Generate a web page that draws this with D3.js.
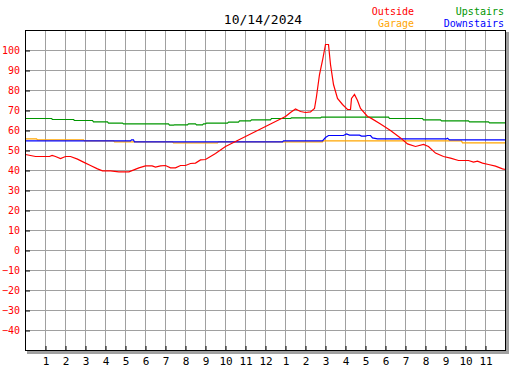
<!DOCTYPE html>
<html>
<head>
<meta charset="utf-8">
<script src="https://cdn.jsdelivr.net/npm/d3@7"></script>
<style>
  body { margin: 0; background: #fff; }
  text { font-family: "DejaVu Sans Mono", monospace; }
</style>
</head>
<body>
<div id="chart"></div>
<script>
// temps for the day, hour of day (0-24) and degrees
var title = "10/14/2024";

var outsideHours = [0, 0.25, 0.5, 1.2, 1.33, 1.5, 1.75, 2, 2.25, 2.6, 2.9, 3.25, 3.6, 3.85, 4.25, 4.67, 5.17, 5.42, 5.67, 6, 6.33, 6.5, 6.75, 7, 7.25, 7.5, 7.75, 8, 8.25, 8.5, 8.75, 9, 9.5, 10, 10.5, 11, 11.5, 12, 12.5, 13, 13.25, 13.5, 13.75, 14, 14.25, 14.45, 14.55, 14.7, 14.85, 15, 15.15, 15.25, 15.4, 15.6, 15.85, 16.1, 16.25, 16.3, 16.45, 16.6, 16.75, 17.1, 17.25, 17.75, 18.25, 18.75, 19.1, 19.5, 19.9, 20.15, 20.5, 20.9, 21.25, 21.65, 22.15, 22.4, 22.6, 22.85, 23.15, 23.5, 23.85, 24];
var outsideTemps = [48, 47.5, 47, 47, 47.5, 47, 46, 47, 47, 45.7, 44.2, 42.5, 40.8, 39.8, 39.8, 39.3, 39.3, 40.3, 41.3, 42.3, 42.3, 41.7, 42.3, 42.5, 41.3, 41.3, 42.5, 42.5, 43.5, 43.7, 45.3, 45.5, 48.5, 52, 54.5, 57, 59.5, 62, 64.5, 67, 69, 70.8, 69.5, 69, 69.3, 71, 77, 88, 95, 103, 103, 93, 83, 76, 73, 70.5, 70.5, 76, 78, 75, 71, 67, 66.3, 63.3, 60, 56.3, 53.3, 52, 53, 52, 48.7, 47, 46.2, 45, 45, 44.2, 44.7, 43.7, 43, 42.2, 40.8, 40.5];

var garageHours = [0, 0.55, 0.6, 2.9, 2.95, 4.4, 4.45, 7.35, 7.4, 9.6, 9.65, 14.85, 14.9, 21.8, 21.85, 24];
var garageTemps = [55.8, 55.8, 55.3, 55.3, 54.8, 54.8, 54.3, 54.3, 53.8, 53.8, 54.3, 54.3, 54.8, 54.8, 53.8, 53.8];

var upstairsHours = [0, 1.3, 1.35, 2.4, 2.45, 3.35, 3.4, 4.1, 4.15, 4.85, 4.9, 7.15, 7.2, 7.4, 7.45, 8.1, 8.15, 8.5, 8.55, 8.85, 8.9, 9.0, 9.05, 10.1, 10.15, 10.65, 10.7, 11.25, 11.3, 12.25, 12.3, 13.25, 13.3, 14.75, 14.8, 18.15, 18.2, 19.85, 19.9, 20.75, 20.8, 22.15, 22.2, 23.15, 23.2, 24];
var upstairsTemps = [66, 66, 65.5, 65.5, 65, 65, 64.3, 64.3, 63.7, 63.7, 63.3, 63.3, 62.7, 62.7, 62.8, 62.8, 63.3, 63.3, 62.8, 62.8, 63.3, 63.3, 63.7, 63.7, 64.2, 64.2, 64.8, 64.8, 65.3, 65.3, 66, 66, 66.3, 66.3, 66.7, 66.7, 66, 66, 65.3, 65.3, 64.8, 64.8, 64.3, 64.3, 63.8, 63.8];

var downstairsHours = [0, 5.25, 5.3, 5.4, 5.45, 12.85, 12.9, 14.85, 15.0, 15.15, 15.9, 16.05, 16.2, 16.7, 16.8, 17.0, 17.1, 17.25, 17.35, 17.6, 21.05, 21.1, 21.2, 24];
var downstairsTemps = [54.8, 54.8, 55.3, 55.3, 54.3, 54.3, 54.8, 54.8, 56.5, 57.5, 57.5, 58.3, 57.7, 57.7, 57.2, 57.2, 57.5, 57.5, 56.3, 55.8, 55.8, 56.1, 55.3, 55.3];

var hourTicks = d3.range(1, 24);
var tempTicks = d3.range(-40, 101, 10);

var svgWidth = 527;
var svgHeight = 370;
var margin = { top: 30, right: 22, bottom: 20, left: 25 };
var chartWidth = svgWidth - margin.left - margin.right;   // 480
var chartHeight = svgHeight - margin.top - margin.bottom; // 320

var svg = d3.select("#chart")
  .append("svg")
  .attr("width", svgWidth)
  .attr("height", svgHeight);

var x = d3.scaleLinear().domain([0, 24]).range([0, chartWidth]);
var y = d3.scaleLinear().domain([-50, 110]).range([chartHeight, 0]);

// shadow + plot background
svg.append("rect")
  .attr("x", margin.left + 2).attr("y", margin.top + 2)
  .attr("width", chartWidth + 2).attr("height", chartHeight + 2)
  .attr("fill", "#a0a0a0");

var chartGroup = svg.append("g")
  .attr("transform", `translate(${margin.left}, ${margin.top})`);

chartGroup.append("rect")
  .attr("width", chartWidth).attr("height", chartHeight)
  .attr("fill", "#fff");

// grid
chartGroup.selectAll(".vgrid")
  .data(hourTicks)
  .enter()
  .append("line")
  .attr("x1", d => x(d) + 0.5).attr("x2", d => x(d) + 0.5)
  .attr("y1", 0).attr("y2", chartHeight)
  .attr("stroke", "#a0a0a0");

chartGroup.selectAll(".hgrid")
  .data(tempTicks)
  .enter()
  .append("line")
  .attr("x1", 0).attr("x2", chartWidth)
  .attr("y1", d => y(d) + 0.5).attr("y2", d => y(d) + 0.5)
  .attr("stroke", "#a0a0a0");

// lines
var series = [
  { hours: garageHours, temps: garageTemps, color: "#ffa500" },
  { hours: upstairsHours, temps: upstairsTemps, color: "#009600" },
  { hours: downstairsHours, temps: downstairsTemps, color: "#0000ff" },
  { hours: outsideHours, temps: outsideTemps, color: "#ff0000" }
];

var line = d3.line()
  .x(d => x(d[0]) + 0.5)
  .y(d => y(d[1]) + 0.5);

series.forEach(s => {
  chartGroup.append("path")
    .datum(d3.zip(s.hours, s.temps))
    .attr("d", line)
    .attr("fill", "none")
    .attr("stroke", s.color)
    .attr("stroke-width", 1.2);
});

// border
chartGroup.append("rect")
  .attr("x", 0.5).attr("y", 0.5)
  .attr("width", chartWidth).attr("height", chartHeight)
  .attr("fill", "none")
  .attr("stroke", "#000");

// axes
var xAxis = d3.axisBottom(x)
  .tickValues(hourTicks)
  .tickFormat(h => (h % 12) || 12)
  .tickSizeInner(-4)
  .tickSizeOuter(0)
  .tickPadding(7);

var xg = chartGroup.append("g")
  .attr("transform", `translate(0.5, ${chartHeight})`)
  .call(xAxis);
xg.select(".domain").remove();
xg.selectAll("line").attr("stroke", "#000");
xg.selectAll("text")
  .attr("fill", "#000")
  .style("font-size", "11px");

var yAxis = d3.axisLeft(y)
  .tickValues(tempTicks)
  .tickSizeInner(-5)
  .tickSizeOuter(0)
  .tickPadding(5);

var yg = chartGroup.append("g")
  .attr("transform", "translate(0, 0.5)")
  .call(yAxis);
yg.select(".domain").remove();
yg.selectAll("line").attr("stroke", "#000");
yg.selectAll("text")
  .attr("fill", "#ff0000")
  .style("font-size", "10px");

// title and legend
svg.append("text")
  .attr("x", 263).attr("y", 24)
  .attr("text-anchor", "middle")
  .style("font-size", "13px")
  .text(title);

var legend = [
  { name: "Outside", color: "#ff0000", x: 414, y: 15 },
  { name: "Garage", color: "#ffa500", x: 414, y: 27 },
  { name: "Upstairs", color: "#009600", x: 504, y: 15 },
  { name: "Downstairs", color: "#0000ff", x: 504, y: 27 }
];

svg.selectAll(".legend")
  .data(legend)
  .enter()
  .append("text")
  .attr("x", d => d.x).attr("y", d => d.y)
  .attr("text-anchor", "end")
  .attr("fill", d => d.color)
  .style("font-size", "10px")
  .text(d => d.name);
</script>
</body>
</html>
